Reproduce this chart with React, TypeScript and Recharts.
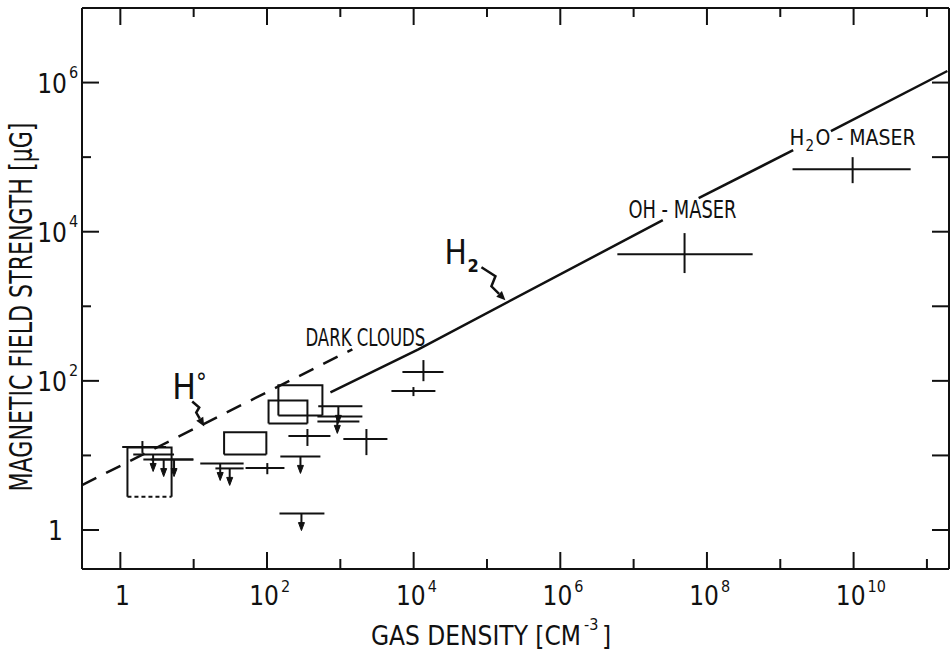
import React from 'react';
import { ComposedChart, XAxis, YAxis, Scatter, ErrorBar, ReferenceArea, ReferenceDot } from 'recharts';

const FONT = '"Liberation Sans Narrow", "DejaVu Sans Condensed", "Liberation Sans", sans-serif';
const INK = '#111';

// ticks: every decade, even powers get a label
const xTicks = [1, 10, 1e2, 1e3, 1e4, 1e5, 1e6, 1e7, 1e8, 1e9, 1e10, 1e11];
const yTicks = [1, 10, 1e2, 1e3, 1e4, 1e5, 1e6];

// H° relation (dashed)
const hiLine = [
  { n: 0.3, b: 4.0 },
  { n: 1460, b: 265 },
];

// H2 relation (solid), broken where the maser labels sit on it
const h2LineA = [
  { n: 733, b: 70 },
  { n: 11600, b: 265 },
  { n: 2.5e7, b: 14300 },
];
const h2LineB = [
  { n: 7.7e7, b: 28200 },
  { n: 1.5e9, b: 124000 },
];
const h2LineC = [
  { n: 4.9e9, b: 223000 },
  { n: 1.9e11, b: 1430000 },
];

// measurements with ranges in density and field
const crossPts = [
  { n: 2.0, nLo: 1.06, nHi: 4.2, b: 13, bLo: 10.8, bHi: 15.6 },
  { n: 101, nLo: 51, nHi: 173, b: 6.8, bLo: 5.6, bHi: 7.9 },
  { n: 356, nLo: 196, nHi: 733, b: 18.2, bLo: 13.4, bHi: 22.6 },
  { n: 2270, nLo: 1100, nHi: 4390, b: 16.6, bLo: 10.1, bHi: 22.6 },
  { n: 13600, nLo: 7030, nHi: 25500, b: 131, bLo: 99, bHi: 190 },
  { n: 9940, nLo: 4980, nHi: 19800, b: 73, bLo: 62.5, bHi: 82.6 },
  { n: 942, nLo: 487, nHi: 1820, b: 28.6, bLo: 28.6, bHi: 28.6 },
  { n: 4.95e7, nLo: 6.0e6, nHi: 4.2e8, b: 5000, bLo: 2790, bHi: 9580 },
  { n: 9.7e9, nLo: 1.47e9, nHi: 6.0e10, b: 69000, bLo: 44800, bHi: 100000 },
];

// upper limits (arrow down)
const upperPts = [
  { n: 2.8, nLo: 1.5, nHi: 5.4, b: 10.3 },
  { n: 3.9, nLo: 2.06, nHi: 9.9, b: 8.8 },
  { n: 5.4, nLo: 2.6, nHi: 9.9, b: 8.8 },
  { n: 23, nLo: 12.3, nHi: 48, b: 7.8 },
  { n: 31, nLo: 19.8, nHi: 48, b: 6.7 },
  { n: 940, nLo: 500, nHi: 2000, b: 45.5 },
  { n: 910, nLo: 487, nHi: 2000, b: 33.4 },
  { n: 286, nLo: 152, nHi: 535, b: 9.7 },
  { n: 295, nLo: 148, nHi: 607, b: 1.66 },
];

// boxes (range in both quantities)
const boxes = [
  { n1: 1.25, n2: 5.0, b1: 2.8, b2: 12.8, dashedBottom: true },
  { n1: 26, n2: 98, b1: 10.3, b2: 20.4, dashedBottom: false },
  { n1: 143, n2: 570, b1: 34.4, b2: 87, dashedBottom: false },
  { n1: 105, n2: 356, b1: 26.9, b2: 54.7, dashedBottom: false },
];

const crossData = crossPts.map((p) => ({ ...p, ex: [p.n - p.nLo, p.nHi - p.n], ey: [p.b - p.bLo, p.bHi - p.b] }));
const upperData = upperPts.map((p) => ({ ...p, ex: [p.n - p.nLo, p.nHi - p.n] }));

const expOf = (v: number) => Math.round(Math.log10(v));

const BottomTick = ({ x, y, payload }: any) => {
  const e = expOf(payload.value);
  const major = e % 2 === 0;
  return (
    <g fontFamily={FONT} fill={INK}>
      <line x1={x} x2={x} y1={y} y2={y - (major ? 17 : 10)} stroke={INK} strokeWidth={2} />
      {major && e === 0 && (
        <text x={x + 2} y={y + 36} textAnchor="middle" fontSize={26}>1</text>
      )}
      {major && e !== 0 && (
        <>
          <text x={x + 12} y={y + 36} textAnchor="end" fontSize={26}>10</text>
          <text x={x + 14} y={y + 23} fontSize={16}>{e}</text>
        </>
      )}
    </g>
  );
};

const TopTick = ({ x, y, payload }: any) => {
  const major = expOf(payload.value) % 2 === 0;
  return <line x1={x} x2={x} y1={y} y2={y + (major ? 17 : 9)} stroke={INK} strokeWidth={2} />;
};

const LeftTick = ({ x, y, payload }: any) => {
  const e = expOf(payload.value);
  const major = e % 2 === 0;
  return (
    <g fontFamily={FONT} fill={INK}>
      <line x1={x} x2={x + (major ? 17 : 9)} y1={y} y2={y} stroke={INK} strokeWidth={2} />
      {major && e === 0 && (
        <text x={x - 19} y={y + 10} textAnchor="end" fontSize={26}>1</text>
      )}
      {major && e !== 0 && (
        <>
          <text x={x - 15} y={y + 10} textAnchor="end" fontSize={26}>10</text>
          <text x={x - 13} y={y - 5} fontSize={16}>{e}</text>
        </>
      )}
    </g>
  );
};

const RightTick = ({ x, y }: any) => (
  <line x1={x} x2={x - 17} y1={y} y2={y} stroke={INK} strokeWidth={2} />
);

const Empty = () => <g />;

const UpperArrow = ({ cx, cy }: any) => (
  <g>
    <line x1={cx} x2={cx} y1={cy} y2={cy + 12} stroke={INK} strokeWidth={2} />
    <path d={`M${cx - 3},${cy + 9} L${cx + 3},${cy + 9} L${cx},${cy + 17} Z`} fill={INK} stroke={INK} strokeWidth={1} />
  </g>
);

const renderBox = (p: any, dashedBottom: boolean) => {
  const { x, y, width, height } = p;
  const x2 = x + width;
  const y2 = y + height;
  return (
    <g stroke={INK} strokeWidth={2} fill="none">
      <path d={`M${x},${y2} L${x},${y} L${x2},${y} L${x2},${y2}`} />
      <line x1={x} x2={x2} y1={y2} y2={y2} strokeDasharray={dashedBottom ? '4 3' : undefined} />
    </g>
  );
};

const Squiggle = ({ pts }: { pts: number[][] }) => {
  const [ax, ay] = pts[pts.length - 2];
  const [bx, by] = pts[pts.length - 1];
  const a = Math.atan2(by - ay, bx - ax);
  const L = 9;
  const W = 4;
  const bx0 = bx - L * Math.cos(a);
  const by0 = by - L * Math.sin(a);
  const head = `${bx},${by} ${bx0 + W * Math.sin(a)},${by0 - W * Math.cos(a)} ${bx0 - W * Math.sin(a)},${by0 + W * Math.cos(a)}`;
  return (
    <g>
      <polyline points={pts.slice(0, -1).concat([[bx0, by0]]).map((q) => q.join(',')).join(' ')} fill="none" stroke={INK} strokeWidth={2.5} />
      <polygon points={head} fill={INK} />
    </g>
  );
};

const HILabel = ({ cx, cy }: any) => {
  const o = (dx: number, dy: number) => [cx + dx, cy + dy];
  return (
    <g>
      <text x={cx} y={cy} fontFamily={FONT} fontSize={35} fill={INK}>
        H<tspan fontSize={24} dy={-8}>°</tspan>
      </text>
      <Squiggle pts={[o(20, 3), o(27, 9), o(24, 14), o(32, 28)]} />
    </g>
  );
};

const H2Label = ({ cx, cy }: any) => {
  const o = (dx: number, dy: number) => [cx + dx, cy + dy];
  return (
    <g fontFamily={FONT} fill={INK}>
      <text x={cx} y={cy} fontSize={33}>H</text>
      <text x={cx + 23} y={cy + 8} fontSize={18} fontWeight="bold">2</text>
      <Squiggle pts={[o(37, 3), o(51, 12), o(47, 22), o(61, 36)]} />
    </g>
  );
};

const DarkLabel = ({ cx, cy }: any) => (
  <text x={cx} y={cy} fontFamily={FONT} fontSize={25} fill={INK} textLength={120} lengthAdjust="spacingAndGlyphs">DARK CLOUDS</text>
);

const OHLabel = ({ cx, cy }: any) => (
  <text x={cx} y={cy} fontFamily={FONT} fontSize={24} fill={INK} textLength={108} lengthAdjust="spacingAndGlyphs">OH - MASER</text>
);

const H2OLabel = ({ cx, cy }: any) => (
  <g fontFamily={FONT} fill={INK}>
    <text x={cx} y={cy} fontSize={22}>H</text>
    <text x={cx + 16} y={cy + 6} fontSize={15}>2</text>
    <text x={cx + 26} y={cy} fontSize={21}>O - MASER</text>
  </g>
);

export default function App() {
  return (
    <div style={{ position: 'absolute', left: 0, top: 0, background: '#fff' }}>
      <ComposedChart width={952} height={651} margin={{ top: 0, right: 0, bottom: 0, left: 0 }}>
        <XAxis
          xAxisId={0}
          dataKey="n"
          type="number"
          scale="log"
          domain={[0.3, 2e11]}
          allowDataOverflow
          ticks={xTicks}
          interval={0}
          height={82}
          tickSize={0}
          tickMargin={0}
          tickLine={false}
          axisLine={{ stroke: INK, strokeWidth: 2 }}
          tick={<BottomTick />}
        />
        <XAxis
          xAxisId="top"
          orientation="top"
          dataKey="n"
          type="number"
          scale="log"
          domain={[0.3, 2e11]}
          allowDataOverflow
          ticks={xTicks}
          interval={0}
          height={8}
          tickSize={0}
          tickMargin={0}
          tickLine={false}
          axisLine={{ stroke: INK, strokeWidth: 2 }}
          tick={<TopTick />}
        />
        <YAxis
          yAxisId={0}
          dataKey="b"
          type="number"
          scale="log"
          domain={[0.3, 1e7]}
          allowDataOverflow
          ticks={yTicks}
          interval={0}
          width={82}
          tickSize={0}
          tickMargin={0}
          tickLine={false}
          axisLine={{ stroke: INK, strokeWidth: 2 }}
          tick={<LeftTick />}
        />
        <YAxis
          yAxisId="right"
          orientation="right"
          dataKey="b"
          type="number"
          scale="log"
          domain={[0.3, 1e7]}
          allowDataOverflow
          ticks={yTicks}
          interval={0}
          width={3}
          tickSize={0}
          tickMargin={0}
          tickLine={false}
          axisLine={{ stroke: INK, strokeWidth: 2 }}
          tick={<RightTick />}
        />

        {boxes.map((bx, i) => (
          <ReferenceArea
            key={`box-${i}`}
            x1={bx.n1}
            x2={bx.n2}
            y1={bx.b1}
            y2={bx.b2}
            shape={(p: any) => renderBox(p, bx.dashedBottom)}
          />
        ))}

        <Scatter data={hiLine} shape={Empty} line={{ stroke: INK, strokeWidth: 2.5, strokeDasharray: '16 11' }} isAnimationActive={false} />
        <Scatter data={h2LineA} shape={Empty} line={{ stroke: INK, strokeWidth: 2.5 }} isAnimationActive={false} />
        <Scatter data={h2LineB} shape={Empty} line={{ stroke: INK, strokeWidth: 2.5 }} isAnimationActive={false} />
        <Scatter data={h2LineC} shape={Empty} line={{ stroke: INK, strokeWidth: 2.5 }} isAnimationActive={false} />

        <Scatter data={crossData} shape={Empty} isAnimationActive={false}>
          <ErrorBar dataKey="ex" direction="x" width={0} stroke={INK} strokeWidth={2} isAnimationActive={false} />
          <ErrorBar dataKey="ey" direction="y" width={0} stroke={INK} strokeWidth={2} isAnimationActive={false} />
        </Scatter>
        <Scatter data={upperData} shape={<UpperArrow />} isAnimationActive={false}>
          <ErrorBar dataKey="ex" direction="x" width={0} stroke={INK} strokeWidth={2} isAnimationActive={false} />
        </Scatter>

        <ReferenceDot x={334} y={290} r={0} shape={<DarkLabel />} />
        <ReferenceDot x={8.5e6} y={15200} r={0} shape={<OHLabel />} />
        <ReferenceDot x={1.34e9} y={145000} r={0} shape={<H2OLabel />} />
        <ReferenceDot x={5.1} y={58} r={0} shape={<HILabel />} />
        <ReferenceDot x={26300} y={3660} r={0} shape={<H2Label />} />

        <g fontFamily={FONT} fill={INK}>
          <text x={581} y={645} textAnchor="end" fontSize={26}>GAS DENSITY [CM</text>
          <text x={584} y={630} fontSize={16}>-3</text>
          <text x={602} y={645} fontSize={26}>]</text>
        </g>
        <text
          x={32}
          y={307}
          transform="rotate(-90 32 307)"
          textAnchor="middle"
          fontFamily={FONT}
          fontSize={32}
          fill={INK}
          textLength={369}
          lengthAdjust="spacingAndGlyphs"
        >
          MAGNETIC FIELD STRENGTH [μG]
        </text>
      </ComposedChart>
    </div>
  );
}
